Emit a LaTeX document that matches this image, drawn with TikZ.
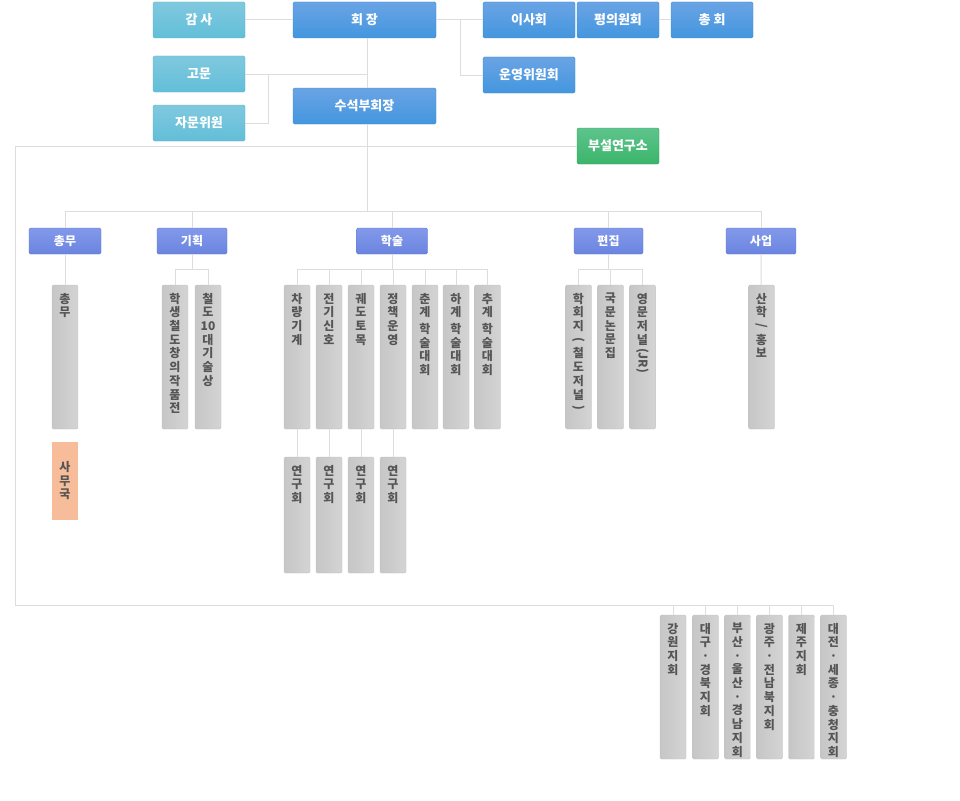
\documentclass[tikz,border=0pt]{standalone}
\usepackage{fontspec}
\setmainfont{Noto Sans CJK KR}
\definecolor{linegray}{HTML}{DDDDDD}
\definecolor{cyanTop}{HTML}{80C9DF}
\definecolor{cyanBot}{HTML}{62BED8}
\definecolor{cyanLine}{HTML}{5FB3C6}
\definecolor{blueTop}{HTML}{69A4E4}
\definecolor{blueBot}{HTML}{4496DF}
\definecolor{blueLine}{HTML}{3F88CF}
\definecolor{greenTop}{HTML}{5EC48C}
\definecolor{greenBot}{HTML}{3BB56B}
\definecolor{greenLine}{HTML}{34A05E}
\definecolor{deptTop}{HTML}{8399EA}
\definecolor{deptBot}{HTML}{6A84DF}
\definecolor{deptLine}{HTML}{6279D6}
\definecolor{subL}{HTML}{C6C6C6}
\definecolor{subR}{HTML}{D4D4D4}
\definecolor{subLine}{HTML}{C2C2C2}
\definecolor{subText}{HTML}{555555}
\definecolor{officeFill}{HTML}{F7BD9A}
\newcommand{\turn}[2][0.6em]{\raisebox{#1}{\rotatebox{-90}{#2}}}
\tikzset{
link/.style={draw=linegray, line width=1pt},
head/.style={rounded corners=1.5pt, inner sep=0pt, minimum height=36, text=white,
  font=\bfseries\fontsize{13}{15}\selectfont},
cyanbox/.style={head, top color=cyanTop, bottom color=cyanBot, draw=cyanLine},
bluebox/.style={head, top color=blueTop, bottom color=blueBot, draw=blueLine},
greenbox/.style={head, top color=greenTop, bottom color=greenBot, draw=greenLine},
dept/.style={head, minimum height=26, top color=deptTop, bottom color=deptBot, draw=deptLine,
  font=\bfseries\fontsize{12}{14}\selectfont},
vtext/.style={anchor=north, yshift=-8pt, inner sep=0pt, align=center, text=subText,
  font=\bfseries\fontsize{12}{13.7}\selectfont},
sub/.style={draw=subLine, rounded corners=1.5pt, left color=subL, right color=subR,
  inner sep=0pt, minimum width=26, minimum height=144, label={[vtext]north:{#1}}},
}

\begin{document}
\begin{tikzpicture}[x=1pt, y=-1pt]
\fill[white] (0,0) rectangle (960,800);
\useasboundingbox (0,0) rectangle (960,800);

% top
\node[cyanbox, minimum width=92] (gamsa) at (199,20) {감 사};
\node[bluebox, minimum width=143] (hoejang) at (364.5,20) {회 장};
\node[bluebox, minimum width=92] (isa) at (529,20) {이사회};
\node[bluebox, minimum width=82] (pyeong) at (618,20) {평의원회};
\node[bluebox, minimum width=82] (chonghoe) at (712,20) {총 회};
\node[cyanbox, minimum width=92] (gomun) at (199,74) {고문};
\node[cyanbox, minimum width=92] (jamun) at (199,123) {자문위원};
\node[bluebox, minimum width=143] (suseok) at (364.5,106) {수석부회장};
\node[bluebox, minimum width=92] (unyeong) at (529,75) {운영위원회};
\node[greenbox, minimum width=82] (buseol) at (618,146) {부설연구소};

% departments
\node[dept, minimum width=72] (chongmu) at (65,241) {총무};
\node[dept, minimum width=70] (gihoek) at (192,241) {기획};
\node[dept, minimum width=71] (haksul) at (392,241) {학술};
\node[dept, minimum width=69] (pyeonjip) at (608.5,241) {편집};
\node[dept, minimum width=70] (saeop) at (761,241) {사업};

\node[sub={총\\무}] (c1) at (65,357) {};
\node[inner sep=0pt, fill=officeFill, minimum width=26, minimum height=78, align=center,
  text=subText, font=\bfseries\fontsize{12}{13.5}\selectfont] (samuguk) at (65,481) {사\\무\\국};

\node[sub={학\\생\\철\\도\\창\\의\\작\\품\\전}] (g1) at (175,357) {};
\node[sub={철\\도\\10\\대\\기\\술\\상}] (g2) at (208,357) {};

\foreach \x/\t [count=\i] in {297/{차\\량\\기\\계}, 329/{전\\기\\신\\호}, 361/{궤\\도\\토\\목},
  393/{정\\책\\운\\영}, 425/{춘\\계\\[3pt]학\\술\\대\\회}, 456/{하\\계\\[3pt]학\\술\\대\\회},
  487.5/{추\\계\\[3pt]학\\술\\대\\회}}
  \node[sub=\t] (h\i) at (\x,357) {};
\foreach \x [count=\i] in {297,329,361,393}
  \node[sub={연\\구\\회}, minimum height=116] (r\i) at (\x,515) {};

\node[sub={학\\회\\지\\\turn{(}\\철\\도\\저\\널\\\turn{)}}] (p1) at (578.5,357) {};
\node[sub={국\\문\\논\\문\\집}] (p2) at (610.5,357) {};
\node[sub={영\\문\\저\\널\\\turn[0.8em]{(JR)}}] (p3) at (642.5,357) {};

\node[sub={산\\학\\\turn{/}\\홍\\보}] (s1) at (761.5,357) {};

% branches
\foreach \x/\t [count=\i] in {673/{강\\원\\지\\회}, 705.5/{대\\구\\·\\경\\북\\지\\회},
  737.5/{부\\산\\·\\울\\산\\·\\경\\남\\지\\회}, 769.5/{광\\주\\·\\전\\남\\북\\지\\회},
  801.5/{제\\주\\지\\회}, 833.5/{대\\전\\·\\세\\종\\·\\충\\청\\지\\회}}
  \node[sub=\t] (b\i) at (\x,687) {};

\coordinate (spine) at (367,0);
\coordinate (fork) at (460,20);
\coordinate (knee) at (268,74);
\coordinate (bus) at (0,211);
\coordinate (sbus) at (0,269);
\coordinate (rim) at (15,605);

\draw[link] (gamsa) -- (hoejang);
\draw[link] (hoejang) -- (isa);
\draw[link] (isa) -- (pyeong);
\draw[link] (pyeong) -- (chonghoe);
\draw[link] (fork) |- (unyeong.west);
\draw[link] (hoejang.south -| spine) -- (suseok.north -| spine);
\draw[link] (gomun.east) -- (gomun.east -| spine);
\draw[link] (jamun.east) -| (knee);
\draw[link] (suseok.south -| spine) -- (spine |- bus);

\draw[link] (chongmu.north) |- (saeop.north |- bus) -- (saeop.north);
\foreach \n in {gihoek,haksul,pyeonjip}
  \draw[link] (\n.north) -- (\n.north |- bus);
\foreach \n in {gihoek,haksul,pyeonjip}
  \draw[link] (\n.south) -- (\n.south |- sbus);

\draw[link] (chongmu) -- (c1);
\draw[link] (g1.north) |- (g2.north |- sbus) -- (g2.north);
\draw[link] (h1.north) |- (h7.north |- sbus) -- (h7.north);
\foreach \i in {2,...,6}
  \draw[link] (h\i.north) -- (h\i.north |- sbus);
\foreach \i in {1,...,4}
  \draw[link] (h\i) -- (r\i);
\draw[link] (p1.north) |- (p3.north |- sbus) -- (p3.north);
\draw[link] (p2.north) -- (p2.north |- sbus);
\draw[link] (saeop) -- (s1);

\draw[link] (buseol.west) -| (rim) -- (b6.north |- rim);
\foreach \i in {1,...,6}
  \draw[link] (b\i.north) -- (b\i.north |- rim);
\end{tikzpicture}
\end{document}
